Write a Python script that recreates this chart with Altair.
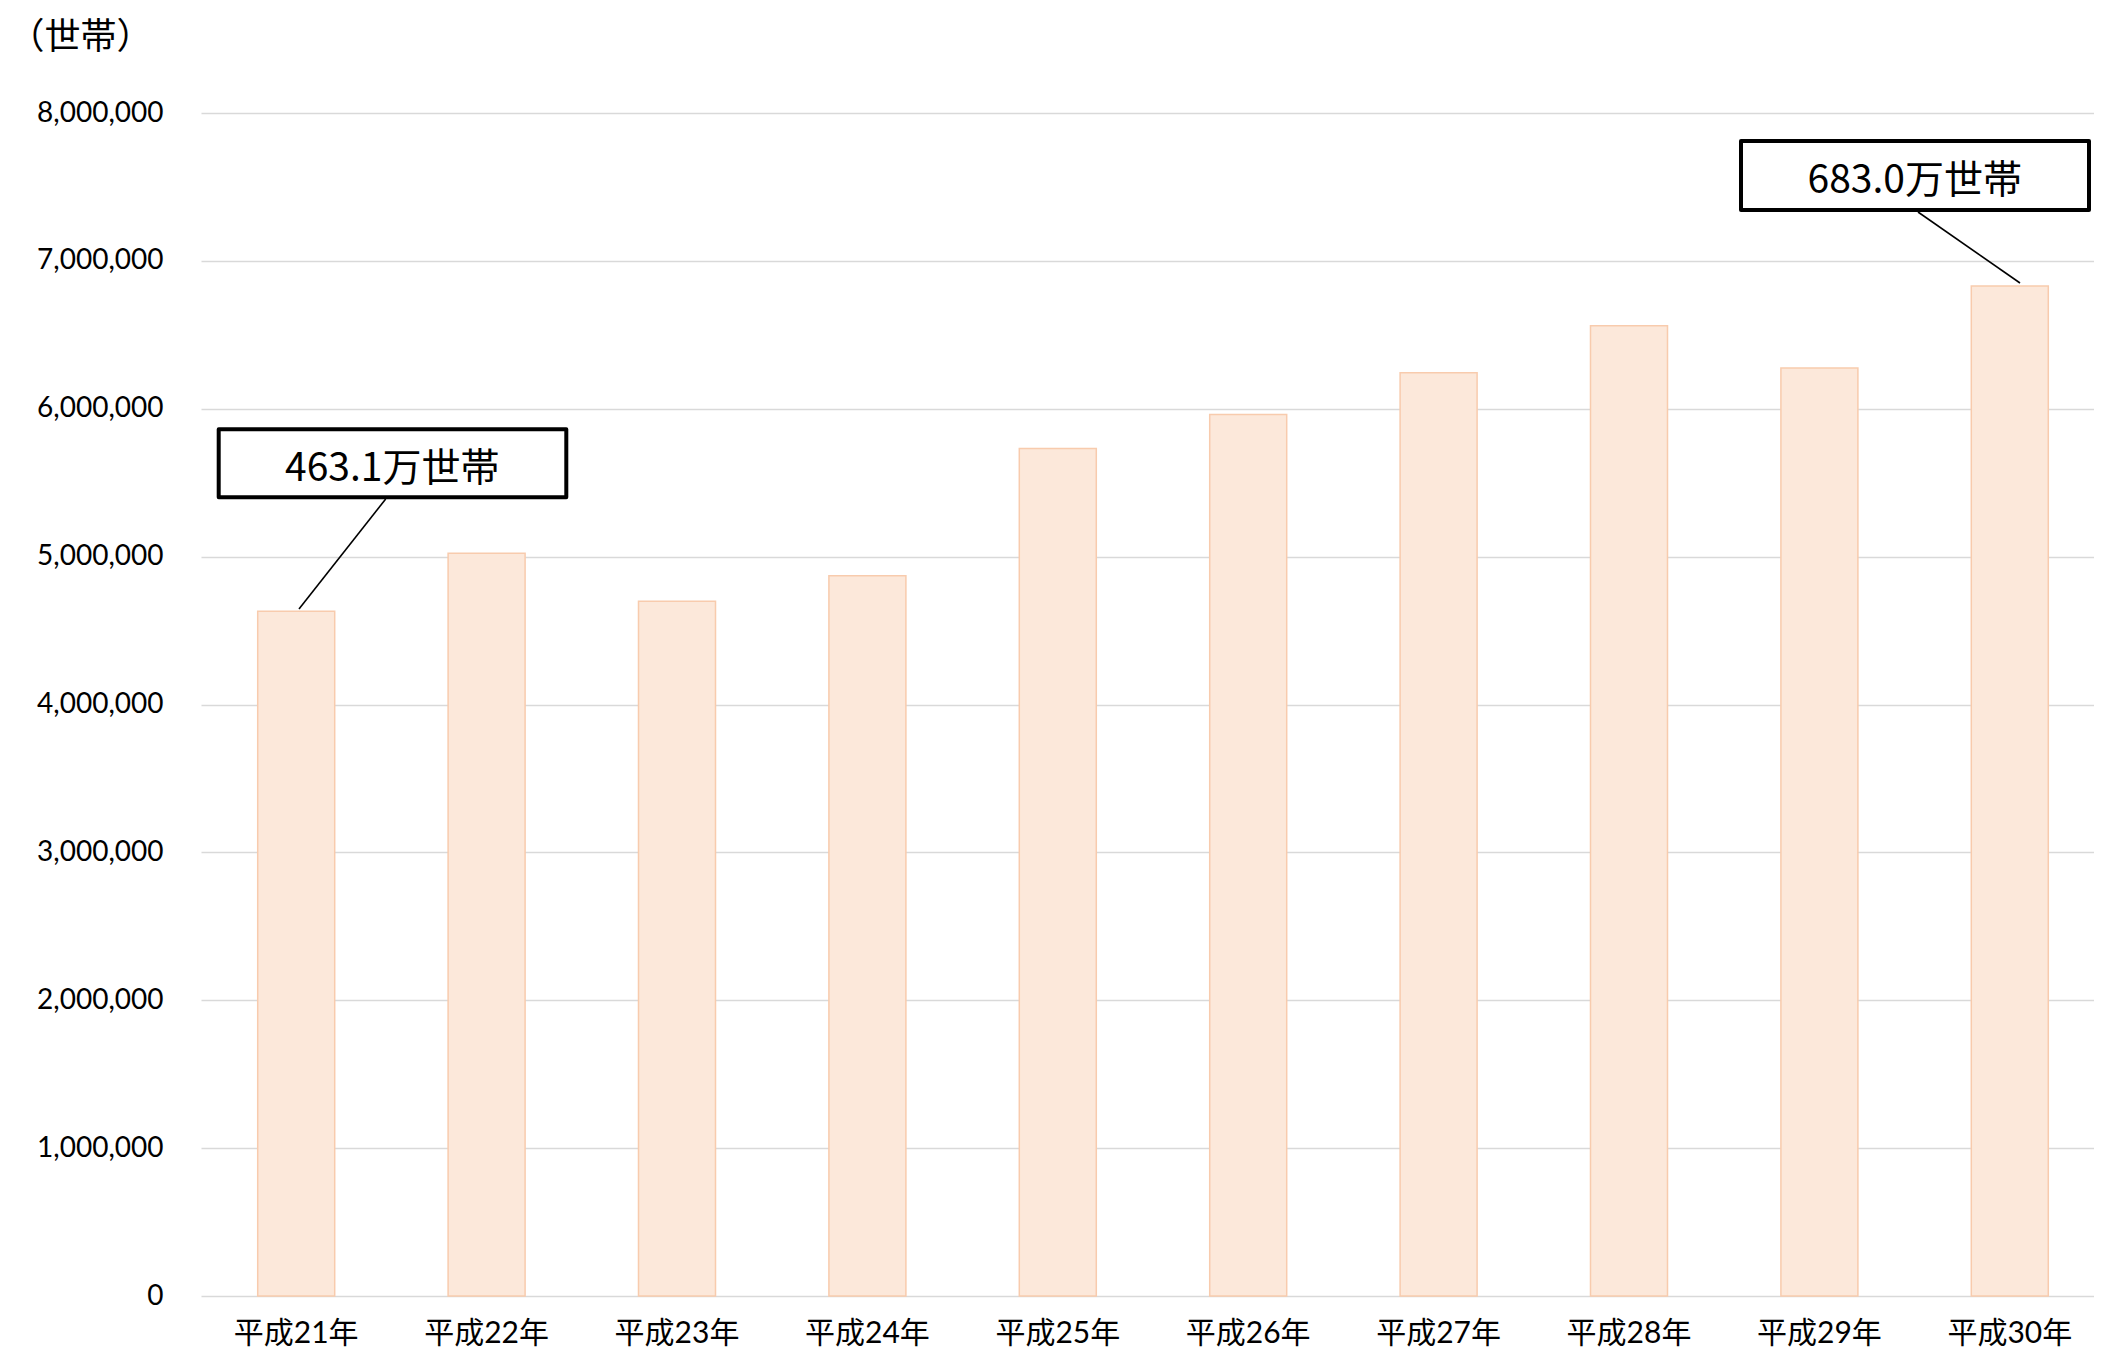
import altair as alt
import pandas as pd

# ---- data ----
categories = ["平成21年", "平成22年", "平成23年", "平成24年", "平成25年",
              "平成26年", "平成27年", "平成28年", "平成29年", "平成30年"]
households = [4631000, 5022000, 4699000, 4870000, 5732000,
              5961000, 6243000, 6561000, 6275000, 6830000]
y_ticks = [0, 1000000, 2000000, 3000000, 4000000, 5000000, 6000000, 7000000, 8000000]
callout_categories = ["平成21年", "平成30年"]
callout_labels = ["463.1万世帯", "683.0万世帯"]
y_unit_title = "（世帯）"

df = pd.DataFrame({"year": categories, "households": households})

# ---- layout / style (pixels) ----
W, H = 1893, 1183
JP = '"Noto Sans CJK JP"'
LAT = 'Lato, "Noto Sans CJK JP"'

x_scale = alt.Scale(domain=categories, range=[0, 1904], paddingInner=0, paddingOuter=0)
y_scale = alt.Scale(domain=[0, 8000000], nice=False)

x_axis = alt.Axis(title=None, labelAngle=0, labelFont=LAT, labelFontSize=30,
                  labelColor="#000000", labelPadding=22, ticks=False, tickSize=0,
                  domain=False, grid=False)
y_axis = alt.Axis(values=y_ticks, format=",d", title=y_unit_title,
                  titleAngle=0, titleX=-193, titleY=-76, titleAlign="left",
                  titleBaseline="middle", titleFont=JP, titleFontSize=36,
                  titleFontWeight="normal", titleColor="#000000",
                  labelFont="Lato", labelFontSize=28, labelColor="#000000",
                  labelPadding=38, ticks=False, tickSize=0, domain=False,
                  gridColor="#D9D9D9", gridWidth=1.5)


def xy():
    return dict(
        x=alt.X("year:N", scale=x_scale, sort=None, axis=x_axis, title=None),
        y=alt.Y("households:Q", scale=y_scale, axis=y_axis, title=y_unit_title),
    )


bars = alt.Chart(df).mark_bar(
    width=77, fill="#FCE8DA", stroke="#F8CBAD", strokeWidth=1.5
).encode(**xy())

# callout geometry relative to the top-centre of the annotated bar
callout_layout = [
    dict(box="M -77.5 -181.9 H 270.1 V -113.9 H -77.5 Z",
         leader="M 89.5 -112.2 L 2.8 -2.2", dx=96, dy=-142),
    dict(box="M -268.8 -145 H 79.2 V -76 H -268.8 Z",
         leader="M -91.8 -74 L 10.2 -3", dx=-95, dy=-105),
]

layers = [bars]
for cat, label, lay in zip(callout_categories, callout_labels, callout_layout):
    cdf = pd.DataFrame({"year": [cat],
                        "households": [households[categories.index(cat)]],
                        "label": [label]})
    leader = alt.Chart(cdf).mark_point(
        shape=lay["leader"], size=4, filled=False, fill="transparent",
        stroke="#000000", strokeWidth=1.6, opacity=1
    ).encode(**xy())
    box = alt.Chart(cdf).mark_point(
        shape=lay["box"], size=4, filled=True, fill="#FFFFFF",
        stroke="#000000", strokeWidth=4, strokeJoin="round", opacity=1
    ).encode(**xy())
    text = alt.Chart(cdf).mark_text(
        font=JP, fontSize=39, color="#000000", align="center", baseline="middle",
        dx=lay["dx"], dy=lay["dy"]
    ).encode(text="label:N", **xy())
    layers += [leader, box, text]

chart = alt.layer(*layers).properties(
    width=W, height=H,
    autosize=alt.AutoSizeParams(type="none"),
    padding={"left": 193, "top": 105, "right": 0, "bottom": 52},
    background="#FFFFFF",
).configure_view(stroke=None)

chart.save("out.html", embed_options={"renderer": "svg", "actions": False})
